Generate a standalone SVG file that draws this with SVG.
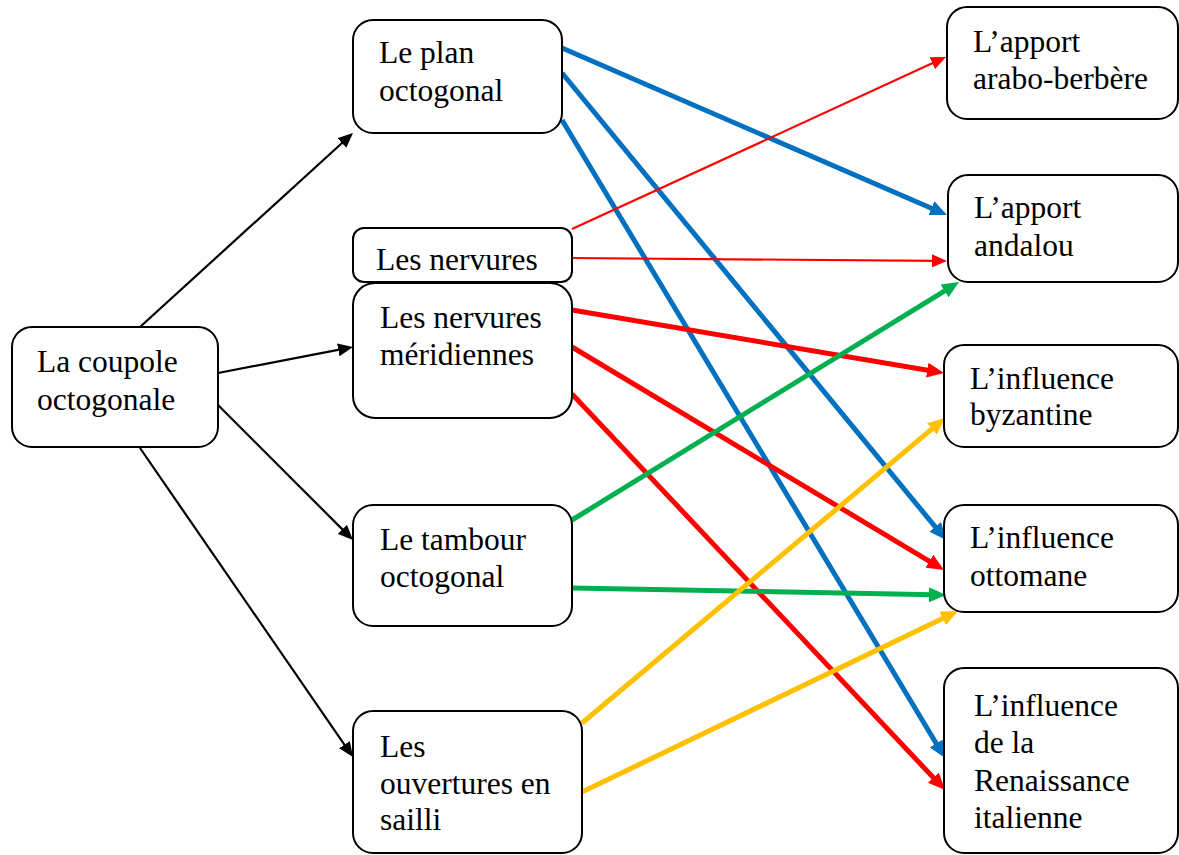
<svg xmlns="http://www.w3.org/2000/svg" width="1179" height="855" viewBox="0 0 1179 855">
  <style>
    .box { fill: #ffffff; stroke: #000000; stroke-width: 2; }
    text { font-family: 'Liberation Serif', 'DejaVu Serif', serif; font-size: 31.5px; fill: #000000; }
    .k { stroke: #000000; stroke-width: 2.2; fill: none; marker-end: url(#ah-k); }
    .rt { stroke: #FF0000; stroke-width: 2.2; fill: none; marker-end: url(#ah-rt); }
    .r { stroke: #FF0000; stroke-width: 5; fill: none; marker-end: url(#ah-r); }
    .b { stroke: #0070C0; stroke-width: 5; fill: none; marker-end: url(#ah-b); }
    .g { stroke: #00B050; stroke-width: 5; fill: none; marker-end: url(#ah-g); }
    .y { stroke: #FFC000; stroke-width: 5; fill: none; marker-end: url(#ah-y); }
  </style>
  <defs>
    <marker id="ah-k" markerUnits="userSpaceOnUse" markerWidth="15" markerHeight="13" refX="5" refY="6.5" orient="auto">
      <path d="M0,0 L15,6.5 L0,13 z" fill="#000000"/>
    </marker>
    <marker id="ah-rt" markerUnits="userSpaceOnUse" markerWidth="15" markerHeight="13" refX="4" refY="6.5" orient="auto">
      <path d="M0,0 L15,6.5 L0,13 z" fill="#FF0000"/>
    </marker>
    <marker id="ah-r" markerUnits="userSpaceOnUse" markerWidth="17" markerHeight="15" refX="5" refY="7.5" orient="auto">
      <path d="M0,0 L17,7.5 L0,15 z" fill="#FF0000"/>
    </marker>
    <marker id="ah-b" markerUnits="userSpaceOnUse" markerWidth="17" markerHeight="15" refX="5" refY="7.5" orient="auto">
      <path d="M0,0 L17,7.5 L0,15 z" fill="#0070C0"/>
    </marker>
    <marker id="ah-g" markerUnits="userSpaceOnUse" markerWidth="17" markerHeight="15" refX="5" refY="7.5" orient="auto">
      <path d="M0,0 L17,7.5 L0,15 z" fill="#00B050"/>
    </marker>
    <marker id="ah-y" markerUnits="userSpaceOnUse" markerWidth="17" markerHeight="15" refX="5" refY="7.5" orient="auto">
      <path d="M0,0 L17,7.5 L0,15 z" fill="#FFC000"/>
    </marker>
  </defs>
  <rect width="1179" height="855" fill="#ffffff"/>

  <!-- connectors -->
  <g id="connectors">
    <line class="k" x1="140" y1="327" x2="345.6" y2="139.7"/>
    <line class="k" x1="218" y1="373" x2="343.2" y2="348.9"/>
    <line class="k" x1="218" y1="405" x2="345.9" y2="532.9"/>
    <line class="k" x1="140" y1="448" x2="347.3" y2="748.8"/>

    <line class="b" x1="562" y1="48" x2="936.0" y2="210.2"/>
    <line class="b" x1="562" y1="73" x2="938.4" y2="530.7"/>
    <line class="b" x1="562" y1="120" x2="938.8" y2="747.7"/>

    <line class="rt" x1="572" y1="229" x2="936.0" y2="61.6"/>
    <line class="rt" x1="572" y1="258" x2="936.0" y2="260.9"/>

    <line class="r" x1="572" y1="310" x2="932.2" y2="371.0"/>
    <line class="r" x1="572" y1="347" x2="933.7" y2="563.8"/>
    <line class="r" x1="572" y1="394" x2="936.8" y2="781.3"/>

    <line class="g" x1="572" y1="520" x2="948.8" y2="288.3"/>
    <line class="g" x1="572" y1="588" x2="934.0" y2="594.8"/>

    <line class="y" x1="582" y1="723" x2="935.8" y2="425.7"/>
    <line class="y" x1="582" y1="792" x2="947.2" y2="616.2"/>
  </g>

  <!-- source nodes -->
  <g id="coupole">
    <rect class="box" x="12" y="327" width="206" height="120" rx="20"/>
    <text x="37" y="372">La coupole</text>
    <text x="37" y="410">octogonale</text>
  </g>
  <g id="plan">
    <rect class="box" x="353" y="20" width="209" height="113" rx="20"/>
    <text x="379" y="63">Le plan</text>
    <text x="379" y="101">octogonal</text>
  </g>
  <g id="nervures">
    <rect class="box" x="353" y="228" width="219" height="54" rx="11"/>
    <text x="376" y="270">Les nervures</text>
  </g>
  <g id="meridiennes">
    <rect class="box" x="353" y="283" width="219" height="135" rx="22"/>
    <text x="380" y="328">Les nervures</text>
    <text x="380" y="365">méridiennes</text>
  </g>
  <g id="tambour">
    <rect class="box" x="353" y="505" width="219" height="121" rx="20"/>
    <text x="380" y="550">Le tambour</text>
    <text x="380" y="587">octogonal</text>
  </g>
  <g id="ouvertures">
    <rect class="box" x="353" y="711" width="229" height="142" rx="20"/>
    <text x="380" y="757">Les</text>
    <text x="380" y="794">ouvertures en</text>
    <text x="380" y="830">sailli</text>
  </g>

  <!-- influence nodes -->
  <g id="arabo-berbere">
    <rect class="box" x="947" y="7" width="231" height="112" rx="20"/>
    <text x="973" y="52">L’apport</text>
    <text x="973" y="89">arabo-berbère</text>
  </g>
  <g id="andalou">
    <rect class="box" x="948" y="175" width="230" height="107" rx="20"/>
    <text x="974" y="218">L’apport</text>
    <text x="974" y="256">andalou</text>
  </g>
  <g id="byzantine">
    <rect class="box" x="944" y="345" width="234" height="102" rx="20"/>
    <text x="970" y="389">L’influence</text>
    <text x="970" y="425">byzantine</text>
  </g>
  <g id="ottomane">
    <rect class="box" x="944" y="505" width="234" height="107" rx="20"/>
    <text x="970" y="548">L’influence</text>
    <text x="970" y="586">ottomane</text>
  </g>
  <g id="renaissance">
    <rect class="box" x="944" y="668" width="234" height="185" rx="20"/>
    <text x="974" y="716">L’influence</text>
    <text x="974" y="753">de la</text>
    <text x="974" y="791">Renaissance</text>
    <text x="974" y="828">italienne</text>
  </g>
</svg>
